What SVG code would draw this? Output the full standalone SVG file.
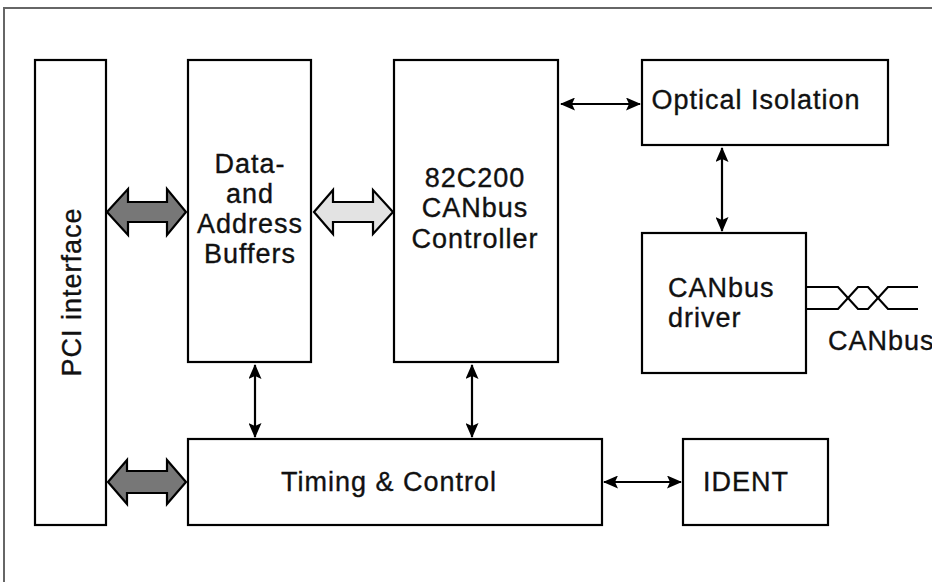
<svg xmlns="http://www.w3.org/2000/svg" width="932" height="582" viewBox="0 0 932 582">
<defs>
<style>
.box{fill:#fff;stroke:#000;stroke-width:2.2}
.t{font-family:"Liberation Sans",Arial,sans-serif;font-size:27px;letter-spacing:1px;fill:#111;stroke:#111;stroke-width:0.35;text-anchor:middle}
.l{fill:none;stroke:#000;stroke-width:2.2}
.fat{stroke:#000;stroke-width:2.2;stroke-linejoin:miter}
.frame{fill:none;stroke:#666;stroke-width:2}
</style>
<marker id="ah" viewBox="0 0 15 13" markerWidth="15" markerHeight="13" refX="14" refY="6.5" orient="auto-start-reverse" markerUnits="userSpaceOnUse">
<path d="M0,0 L15,6.5 L0,13 L3,6.5 z" fill="#000"/>
</marker>
</defs>
<rect width="932" height="582" fill="#fff"/>
<path class="frame" d="M4,582 V8 H932"/>

<g id="pci">
<rect class="box" x="35" y="60" width="71" height="465"/>
<text class="t" transform="translate(81,292) rotate(-90)">PCI interface</text>
</g>
<g id="buffers">
<rect class="box" x="188" y="60" width="123" height="302"/>
<text class="t" x="250" y="173">Data-</text>
<text class="t" x="250" y="203">and</text>
<text class="t" x="250" y="233">Address</text>
<text class="t" x="250" y="263">Buffers</text>
</g>
<g id="controller">
<rect class="box" x="394" y="60" width="164" height="302"/>
<text class="t" x="475" y="187">82C200</text>
<text class="t" x="475" y="217">CANbus</text>
<text class="t" x="475" y="248">Controller</text>
</g>
<g id="optical">
<rect class="box" x="642" y="60" width="246" height="85"/>
<text class="t" x="756" y="109">Optical Isolation</text>
</g>
<g id="driver">
<rect class="box" x="642" y="233" width="164" height="140"/>
<text class="t" x="668" y="297" style="text-anchor:start">CANbus</text>
<text class="t" x="668" y="327" style="text-anchor:start">driver</text>
</g>
<g id="timing">
<rect class="box" x="188" y="439" width="414" height="86"/>
<text class="t" x="389" y="491">Timing &amp; Control</text>
</g>
<g id="ident">
<rect class="box" x="683" y="439" width="145" height="86"/>
<text class="t" x="746" y="491">IDENT</text>
</g>
<g id="canbus-label">
<text class="t" x="828" y="350" style="text-anchor:start">CANbus</text>
</g>

<g id="connectors">
<polygon class="fat" fill="#777" points="107,212 128,189 128,202 167,202 167,189 186,212 167,235 167,222 128,222 128,235"/>
<polygon class="fat" fill="#e3e3e3" points="314,212 333,190 333,202 373,202 373,190 393,212 373,234 373,222 333,222 333,234"/>
<polygon class="fat" fill="#777" points="108,482 127,460 127,471 167,471 167,460 186,482 167,504 167,493 127,493 127,504"/>
<line class="l" x1="561" y1="104" x2="640" y2="104" marker-start="url(#ah)" marker-end="url(#ah)"/>
<line class="l" x1="722" y1="148" x2="722" y2="231" marker-start="url(#ah)" marker-end="url(#ah)"/>
<line class="l" x1="255" y1="365" x2="255" y2="437" marker-start="url(#ah)" marker-end="url(#ah)"/>
<line class="l" x1="472" y1="365" x2="472" y2="437" marker-start="url(#ah)" marker-end="url(#ah)"/>
<line class="l" x1="604" y1="482" x2="681" y2="482" marker-start="url(#ah)" marker-end="url(#ah)"/>
<polyline class="l" points="806,287 838,287 858,309 868,309 888,287 918,287"/>
<polyline class="l" points="806,309 838,309 858,287 868,287 888,309 918,309"/>
</g>
</svg>
